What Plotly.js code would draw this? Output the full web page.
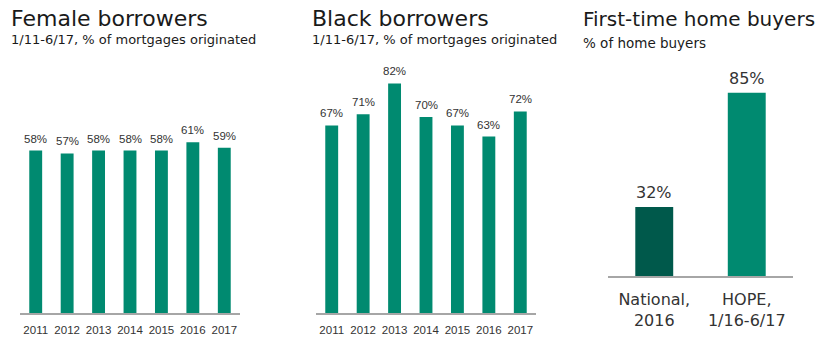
<!DOCTYPE html>
<html><head><meta charset="utf-8">
<script src="https://cdn.plot.ly/plotly-3.0.1.min.js"></script>
<style>html,body{margin:0;padding:0;background:#fff}#chart{width:827px;height:351px}</style>
</head><body><div id="chart"></div>
<script>
const years = ['2011','2012','2013','2014','2015','2016','2017'];
const femaleValues = [58, 57, 58, 58, 58, 61, 59];
const blackValues = [67, 71, 82, 70, 67, 63, 72];
const buyerCategories = ['National,<br>2016', 'HOPE,<br>1/16-6/17'];
const buyerValues = [32, 85];

const W = 827, H = 351;
const px = v => v / W;
const py = v => 1 - v / H;
const TEAL = '#008A70', DARK = '#00594B';
const FONT = 'DejaVu Sans, Liberation Sans, sans-serif';
const NFONT = 'Liberation Sans, Arial, sans-serif';

const pct = v => v + '%';

const traces = [
  {type:'bar', x:years, y:femaleValues, marker:{color:TEAL}, xaxis:'x', yaxis:'y', hoverinfo:'none'},
  {type:'bar', x:years, y:blackValues, marker:{color:TEAL}, xaxis:'x2', yaxis:'y2', hoverinfo:'none'},
  {type:'bar', x:buyerCategories, y:buyerValues, marker:{color:[DARK, TEAL]}, xaxis:'x3', yaxis:'y3', hoverinfo:'none'}
];

const xcommon = {type:'category', showline:true, linecolor:'#A6A6A6', linewidth:1.5,
  ticks:'', showgrid:false, zeroline:false, fixedrange:true, autorange:false};
const ycommon = {visible:false, showgrid:false, zeroline:false, fixedrange:true};

const annotations = [
  {text:'Female borrowers', x:px(9), y:py(19), xref:'paper', yref:'paper', xanchor:'left', yanchor:'middle', showarrow:false, font:{size:22, color:'#1a1a1a', family:FONT}},
  {text:'1/11-6/17, % of mortgages originated', x:px(9), y:py(39), xref:'paper', yref:'paper', xanchor:'left', yanchor:'middle', showarrow:false, font:{size:13, color:'#1a1a1a', family:FONT}},
  {text:'Black borrowers', x:px(310), y:py(19), xref:'paper', yref:'paper', xanchor:'left', yanchor:'middle', showarrow:false, font:{size:22, color:'#1a1a1a', family:FONT}},
  {text:'1/11-6/17, % of mortgages originated', x:px(310), y:py(39), xref:'paper', yref:'paper', xanchor:'left', yanchor:'middle', showarrow:false, font:{size:13, color:'#1a1a1a', family:FONT}},
  {text:'First-time home buyers', x:px(581), y:py(19), xref:'paper', yref:'paper', xanchor:'left', yanchor:'middle', showarrow:false, font:{size:20, color:'#1a1a1a', family:FONT}},
  {text:'% of home buyers', x:px(581), y:py(43), xref:'paper', yref:'paper', xanchor:'left', yanchor:'middle', showarrow:false, font:{size:13.5, color:'#1a1a1a', family:FONT}}
];
years.forEach((c, i) => {
  annotations.push({text:pct(femaleValues[i]), x:i, y:femaleValues[i], xref:'x', yref:'y', xanchor:'center', yanchor:'bottom', yshift:4, showarrow:false, font:{size:11.5, color:'#333', family:NFONT}});
  annotations.push({text:pct(blackValues[i]), x:i, y:blackValues[i], xref:'x2', yref:'y2', xanchor:'center', yanchor:'bottom', yshift:4, showarrow:false, font:{size:11.5, color:'#333', family:NFONT}});
});
buyerCategories.forEach((c, i) => {
  annotations.push({text:pct(buyerValues[i]), x:i, y:buyerValues[i], xref:'x3', yref:'y3', xanchor:'center', yanchor:'bottom', yshift:3, showarrow:false, font:{size:16, color:'#333', family:FONT}});
});

const layout = {
  width:W, height:H, margin:{l:0,r:0,t:0,b:0},
  paper_bgcolor:'#fff', plot_bgcolor:'#fff', showlegend:false,
  bargap:0.59,
  font:{family:FONT, color:'#222'},
  xaxis:Object.assign({}, xcommon, {domain:[px(20), px(240)], anchor:'y', range:[-0.5, years.length-0.5], ticklabelstandoff:6,
    tickfont:{size:11.5, color:'#333', family:NFONT}}),
  yaxis:Object.assign({}, ycommon, {domain:[py(313), py(60)], range:[0, (313-60)/2.8], anchor:'x'}),
  xaxis2:Object.assign({}, xcommon, {domain:[px(316), px(536)], anchor:'y2', range:[-0.5, years.length-0.5], ticklabelstandoff:6,
    tickfont:{size:11.5, color:'#333', family:NFONT}}),
  yaxis2:Object.assign({}, ycommon, {domain:[py(313), py(60)], range:[0, (313-60)/2.8], anchor:'x2'}),
  xaxis3:Object.assign({}, xcommon, {domain:[px(608), px(793)], anchor:'y3', range:[-0.5, buyerCategories.length-0.5], ticklabelstandoff:8,
    tickfont:{size:16, color:'#333', family:FONT}}),
  yaxis3:Object.assign({}, ycommon, {domain:[py(276), py(60)], range:[0, (276-60)/2.155], anchor:'x3'}),
  annotations:annotations
};

Plotly.newPlot('chart', traces, layout, {staticPlot:true, displayModeBar:false});
</script></body></html>
